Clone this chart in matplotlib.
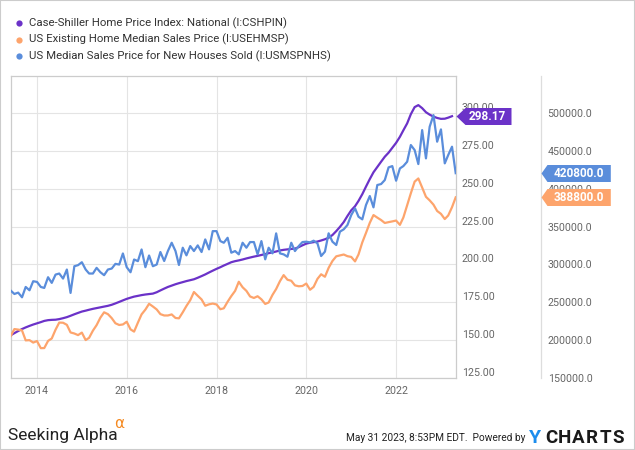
import numpy as np
import pandas as pd
import matplotlib
matplotlib.use("Agg")
import matplotlib.pyplot as plt
import matplotlib.dates as mdates
import matplotlib.transforms as mtransforms
from matplotlib.lines import Line2D
from matplotlib.patches import Rectangle
from matplotlib.ticker import FormatStrFormatter

plt.rcParams['font.family'] = ['Roboto', 'DejaVu Sans']

# monthly data, May 2013 .. Apr 2023
months = pd.period_range('2013-05', '2023-04', freq='M')

labels = ["Case-Shiller Home Price Index: National (I:CSHPIN)",
          "US Existing Home Median Sales Price (I:USEHMSP)",
          "US Median Sales Price for New Houses Sold (I:USMSPNHS)"]
colors = ['#6b32c8', '#fda46c', '#5a8ddb']

# Case-Shiller index (left scale), ends Mar 2023
cshpin = [153.0, 154.4, 155.8, 157.1, 158.2, 159.2, 160.1, 160.9, 161.7, 162.5,
          163.0, 163.2, 163.3, 163.7, 164.3, 165.0, 165.9, 166.9, 167.8, 168.7,
          169.3, 169.9, 170.5, 171.0, 171.5, 172.0, 172.5, 173.2, 174.1, 175.1,
          176.1, 177.1, 177.9, 178.6, 179.1, 179.6, 180.0, 180.3, 180.6, 181.5,
          182.7, 183.9, 185.0, 185.9, 186.8, 187.5, 188.2, 188.9, 189.5, 190.1,
          191.1, 192.2, 193.3, 194.6, 195.8, 197.0, 198.1, 199.2, 200.3, 201.4,
          202.1, 202.6, 203.2, 203.9, 204.5, 205.1, 205.6, 206.2, 206.8, 207.4,
          207.9, 208.5, 209.2, 209.6, 209.9, 210.2, 210.4, 211.4, 212.6, 213.7,
          214.3, 214.7, 215.1, 215.8, 216.6, 217.6, 219.4, 222.0, 224.8, 228.0,
          232.0, 235.8, 238.5, 242.0, 246.5, 251.5, 256.5, 261.0, 264.5, 268.0,
          271.3, 274.0, 277.2, 280.5, 284.5, 288.8, 293.4, 299.5, 304.2, 305.5,
          303.5, 300.8, 299.2, 297.9, 297.0, 296.4, 296.5, 297.2, 298.17]

# existing home median sales price (right scale)
usehmsp = [205000, 214200, 213500, 212400, 199200, 199500, 196300, 198300,
           188900, 189000, 198500, 201700, 213400, 222800, 222600, 219800, 209700, 208300, 206200, 209500,
           199600, 202600, 212100, 219400, 229400, 236400, 234000, 228700, 221900, 219600, 220300, 223900,
           213800, 210800, 222700, 233700, 240000, 247700, 244100, 240200, 234000, 232200, 232200, 233600,
           228900, 228400, 236400, 244800, 252500, 263300, 258300, 253500, 245100, 247000, 248000, 246800,
           240500, 241700, 250400, 257900, 264800, 276900, 269600, 264800, 257400, 255400, 257700, 253600,
           247500, 249400, 259400, 267300, 277700, 285700, 279600, 278200, 272100, 270900, 271300, 274500,
           266300, 270100, 280700, 286800, 283500, 295300, 304400, 310600, 311800, 313000, 310800, 309800,
           303900, 313000, 329100, 341600, 355000, 365300, 361900, 358700, 354800, 355900, 356900, 358000,
           352300, 362000, 378300, 394200, 409600, 413800, 401800, 389500, 384800, 379100, 370700, 366900,
           360000, 364700, 375700, 388800]

# new houses median sales price (right scale)
usmspnhs = [265200, 260700, 262500, 256300, 270000, 265600, 277600, 276700, 270000, 268700,
            282900, 275400, 286400, 287800, 281100, 293100, 262100, 297500, 298900, 302800,
            293100, 287800, 287800, 295300, 289500, 285600, 293100, 294400, 300600, 299700,
            314400, 296200, 289500, 306400, 304200, 319700, 296200, 311700, 297500, 299700,
            316300, 304400, 317600, 328600, 317600, 299100, 322000, 311900, 324200, 317600,
            325100, 316300, 333000, 319800, 344000, 344000, 330800, 328600, 335200, 315400,
            317600, 313200, 328600, 322000, 329500, 329500, 313200, 330800, 306600, 322000,
            314500, 341000, 314500, 313200, 310100, 328600, 317600, 324200, 329500,
            330000, 329100, 331300, 327800, 311000, 316800, 341100, 330000, 325600, 343300,
            346400, 352100, 365300, 374200, 363100, 359600, 378600, 390500, 375500, 405100,
            406400, 411700, 428500, 430200, 410800, 427100, 430200, 436000, 458100, 451400,
            432900, 477900, 440400, 482300, 497800, 462500, 478800, 433800, 444800, 455900,
            420800]

dates = months.to_timestamp(how='end')

W, H = 635, 450
fig = plt.figure(figsize=(W / 100, H / 100), dpi=100)
left_px, right_px, top_px, bot_px = 10.7, 455.7, 75.7, 377.5
ax = fig.add_axes([left_px / W, 1 - bot_px / H, (right_px - left_px) / W, (bot_px - top_px) / H])
ax2 = ax.twinx()

lw = 1.6
ax.plot(dates[:len(cshpin)], cshpin, color=colors[0], lw=lw, zorder=3)
ax2.plot(dates, usehmsp, color=colors[1], lw=lw, zorder=3)
ax2.plot(dates, usmspnhs, color=colors[2], lw=lw, zorder=3)

ax.set_xlim(dates[0], dates[-1])
ax.set_ylim(125, 325)
ax2.set_ylim(150000, 550000)
ax.set_yticks(np.arange(125, 301, 25))
ax2.set_yticks(np.arange(150000, 500001, 50000))
ax.yaxis.set_major_formatter(FormatStrFormatter('%.2f'))
ax2.yaxis.set_major_formatter(FormatStrFormatter('%.1f'))
ax.xaxis.set_major_locator(mdates.YearLocator(2, month=1, day=1))
ax.xaxis.set_major_formatter(mdates.DateFormatter('%Y'))

tick_col = '#666666'
ax.yaxis.tick_right()
ax.tick_params(axis='y', length=0, pad=4.3, labelsize=7.7, labelcolor=tick_col)
ax.tick_params(axis='x', length=0, pad=6.3, labelsize=7.7, labelcolor=tick_col)
ax2.tick_params(axis='y', length=0, pad=5, labelsize=7.7, labelcolor=tick_col)
for lbl in ax.get_yticklabels() + ax2.get_yticklabels():
    lbl.set_va('bottom')

ax.grid(True, color='#e4e4e4', lw=0.8, zorder=0)
for s in ax.spines.values():
    s.set_color('#cccccc')
    s.set_linewidth(0.9)
for name in ['top', 'bottom', 'left']:
    ax2.spines[name].set_visible(False)
out_pt = (540.7 - right_px) * 0.72
ax2.spines['right'].set_position(('outward', out_pt))
ax2.spines['right'].set_color('#dddddd')
ax2.spines['right'].set_linewidth(0.9)


def tag(axis, trans, value, text, color, body_w, tip_w):
    hh = 8.5
    verts = [(0, 0), (tip_w, hh), (body_w, hh), (body_w, -hh), (tip_w, -hh), (0, 0)]
    ms = 2 * max(body_w, hh) * 0.72
    axis.plot([1], [value], transform=trans, marker=verts, ms=ms, mew=0,
              mfc=color, clip_on=False, zorder=6, ls='none')
    axis.annotate(text, xy=(1, value), xycoords=trans,
                  xytext=((tip_w + body_w) / 2 * 0.72, 0), textcoords='offset points',
                  ha='center', va='center', color='white', fontsize=8.5,
                  fontweight='bold', zorder=7, annotation_clip=False)


trans1 = ax.get_yaxis_transform()
trans2 = mtransforms.offset_copy(ax2.get_yaxis_transform(), fig=fig, x=out_pt, y=0, units='points')
tag(ax, trans1, cshpin[-1], f"{cshpin[-1]:.2f}", colors[0], 55, 9)
tag(ax2, trans2, usmspnhs[-1], f"{usmspnhs[-1]:.1f}", colors[2], 69.3, 6)
tag(ax2, trans2, usehmsp[-1], f"{usehmsp[-1]:.1f}", colors[1], 69.3, 6)

# legend
for i, (lab, c) in enumerate(zip(labels, colors)):
    y = 1 - (23.3 + 16.3 * i) / H
    fig.add_artist(Line2D([18.7 / W], [y], marker='o', ms=4.5, mew=0, mfc=c,
                          transform=fig.transFigure))
    fig.text(29.3 / W, y, lab, fontsize=8.2, color='#333333', va='center', ha='left')

# footer
fig.text(8 / W, 1 - 440 / H, "Seeking Alpha", fontsize=12.5,
         color='#222222', va='baseline', ha='left')
fig.text(114 / W, 1 - 428 / H, "\u03b1", family=['DejaVu Sans'], fontsize=11,
         color='#f5891f', va='baseline', ha='left')
fig.text(525 / W, 1 - 441 / H, "May 31 2023, 8:53PM EDT.  Powered by",
         fontsize=7.3, color='#222222', va='baseline', ha='right')
fig.text(535 / W, 1 - 443 / H, "Y", fontsize=14, fontweight='bold', color='#1c8ded',
         va='baseline', ha='center')
for i, ch in enumerate("CHARTS"):
    fig.text((551.5 + 13.4 * i) / W, 1 - 443 / H, ch, fontsize=13.5, fontweight='bold',
             color='#1a1a1a', va='baseline', ha='center')

fig.add_artist(Rectangle((0, 0), 1, 1, transform=fig.transFigure, fill=False,
                         ec='#cccccc', lw=1.5))

fig.savefig('out.png', dpi=100)
